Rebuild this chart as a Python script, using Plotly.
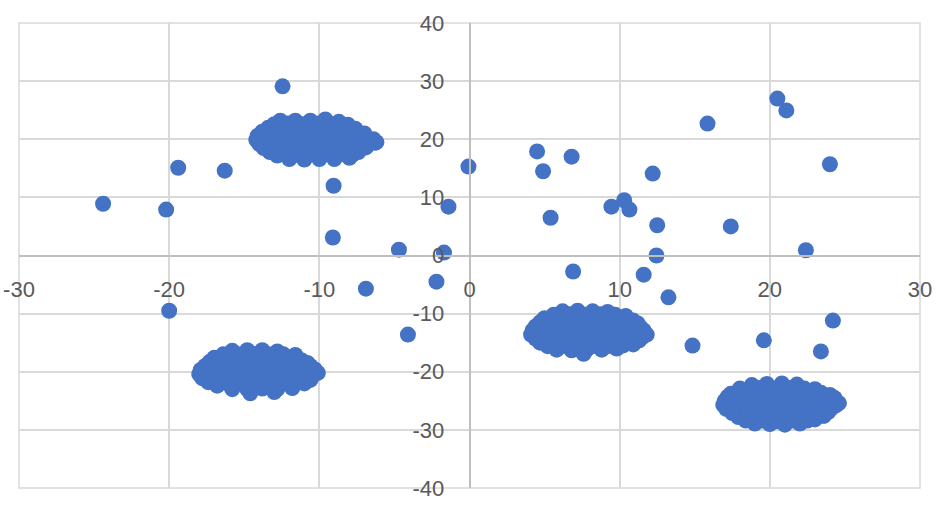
import plotly.graph_objects as go

# Scattered outlier points
outlier_x = [-24.4, -20.2, -19.4, -16.3, -20.0, -12.45, -9.05, -9.1, -6.9, -4.7,
             -4.1, -2.2, -1.7, -1.4, -0.07, 4.5, 4.9, 6.8, 5.4, 6.9,
             9.45, 10.3, 10.65, 12.2, 12.5, 12.45, 11.6, 13.25, 14.85, 15.85,
             17.4, 20.5, 21.1, 22.4, 24.0, 24.2, 19.6, 23.4]
outlier_y = [8.9, 7.9, 15.1, 14.6, -9.5, 29.1, 12.0, 3.1, -5.7, 1.0,
             -13.6, -4.5, 0.5, 8.4, 15.3, 17.9, 14.5, 17.0, 6.5, -2.75,
             8.4, 9.5, 7.9, 14.1, 5.2, 0.0, -3.3, -7.2, -15.5, 22.7,
             5.0, 27.0, 24.96, 0.9, 15.7, -11.2, -14.6, -16.5]

# Cluster A (upper left)
clusterA_x = [-12.6, -11.6, -10.6, -9.6, -8.7,
              -13.4, -12.4, -11.4, -10.4, -9.4, -8.4, -7.6,
              -14.1, -13.2, -12.2, -11.2, -10.2, -9.2, -8.2, -7.2, -6.4,
              -14.0, -13.0, -12.0, -11.0, -10.0, -9.0, -8.0, -7.0, -6.3,
              -13.3, -12.3, -11.3, -10.3, -9.3, -8.3, -7.4,
              -12.0, -11.0, -10.0, -9.0, -8.0,
              -13.0, -12.1, -11.1, -10.1, -9.1, -8.1,
              -13.8, -12.8, -11.8, -10.8, -9.8, -8.8, -7.8, -7.0,
              -14.2, -13.5, -12.5, -11.5, -10.5, -9.5, -8.5, -7.5, -6.6, -6.2,
              -13.7, -12.7, -11.7, -10.7, -9.7, -8.7, -7.7, -6.9,
              -12.8, -11.8, -10.8, -9.8, -8.8, -7.8]
clusterA_y = [23.2, 23.2, 23.2, 23.4, 23.0,
              22.0, 22.0, 22.1, 22.0, 22.2, 22.0, 21.8,
              20.6, 20.7, 20.5, 20.6, 20.6, 20.5, 20.7, 20.4, 20.0,
              19.2, 19.2, 19.1, 19.2, 19.3, 19.2, 19.1, 19.2, 19.4,
              17.8, 17.9, 17.8, 17.7, 17.8, 17.9, 17.8,
              16.6, 16.5, 16.6, 16.6, 16.8,
              22.6, 22.7, 22.6, 22.7, 22.6, 22.5,
              21.3, 21.3, 21.4, 21.3, 21.3, 21.4, 21.2, 21.0,
              19.9, 19.9, 19.9, 20.0, 19.9, 19.9, 20.0, 19.8, 19.7, 19.5,
              18.5, 18.5, 18.4, 18.5, 18.5, 18.4, 18.5, 18.6,
              17.2, 17.1, 17.2, 17.2, 17.2, 17.3]

# Cluster B (lower left)
clusterB_x = [-15.8, -14.8, -13.8, -12.8,
              -17.0, -16.0, -15.0, -14.0, -13.0, -12.0, -11.2,
              -17.6, -16.6, -15.6, -14.6, -13.6, -12.6, -11.6, -10.6,
              -18.0, -17.0, -16.0, -15.0, -14.0, -13.0, -12.0, -11.0, -10.1,
              -17.4, -16.4, -15.4, -14.4, -13.4, -12.4, -11.4, -10.6,
              -15.8, -14.8, -13.8, -12.8, -11.8,
              -14.6, -13.0,
              -16.4, -15.4, -14.4, -13.4, -12.4, -11.6,
              -17.3, -16.3, -15.3, -14.3, -13.3, -12.3, -11.3, -10.8,
              -17.9, -17.1, -16.1, -15.1, -14.1, -13.1, -12.1, -11.1, -10.3,
              -17.8, -16.5, -15.5, -14.5, -13.5, -12.5, -11.5, -10.5,
              -16.8, -15.9, -14.9, -13.9, -12.9, -11.9, -11.0]
clusterB_y = [-16.4, -16.3, -16.3, -16.5,
              -17.6, -17.5, -17.6, -17.6, -17.5, -17.6, -18.0,
              -19.0, -19.0, -19.1, -19.0, -19.0, -19.1, -19.0, -19.0,
              -20.4, -20.4, -20.3, -20.4, -20.4, -20.5, -20.4, -20.3, -20.2,
              -21.8, -21.8, -21.9, -21.8, -21.7, -21.8, -21.8, -21.4,
              -23.0, -23.0, -22.9, -23.0, -22.8,
              -23.7, -23.5,
              -17.0, -17.0, -16.9, -17.0, -17.0, -17.1,
              -18.3, -18.3, -18.3, -18.2, -18.3, -18.3, -18.4, -18.5,
              -19.7, -19.7, -19.7, -19.8, -19.7, -19.7, -19.7, -19.6, -19.6,
              -21.1, -21.1, -21.1, -21.0, -21.1, -21.1, -21.1, -20.9,
              -22.4, -22.4, -22.4, -22.4, -22.4, -22.3, -22.0]

# Cluster C (center right)
clusterC_x = [6.2, 7.2, 8.2, 9.2,
              5.0, 6.0, 7.0, 8.0, 9.0, 10.0, 10.9,
              4.4, 5.4, 6.4, 7.4, 8.4, 9.4, 10.4, 11.4,
              4.1, 5.1, 6.1, 7.1, 8.1, 9.1, 10.1, 11.1, 11.8,
              4.7, 5.7, 6.7, 7.7, 8.7, 9.7, 10.7, 11.3,
              5.8, 6.8, 7.8, 8.8, 9.8,
              7.6,
              5.6, 6.7, 7.7, 8.7, 9.7, 10.4,
              4.7, 5.5, 6.5, 7.5, 8.5, 9.5, 10.5, 11.2,
              4.2, 4.9, 5.9, 6.9, 7.9, 8.9, 9.9, 10.9, 11.6,
              4.4, 5.6, 6.6, 7.6, 8.6, 9.6, 10.6, 11.5,
              5.2, 6.2, 7.2, 8.2, 9.2, 10.2, 10.9]
clusterC_y = [-9.6, -9.5, -9.6, -9.7,
              -10.8, -10.7, -10.8, -10.7, -10.8, -10.8, -11.2,
              -12.2, -12.2, -12.1, -12.2, -12.2, -12.1, -12.2, -12.4,
              -13.6, -13.6, -13.6, -13.5, -13.6, -13.6, -13.6, -13.5, -13.6,
              -15.0, -15.0, -15.1, -15.0, -15.0, -15.0, -14.9, -14.6,
              -16.2, -16.3, -16.2, -16.2, -16.0,
              -16.9,
              -10.2, -10.1, -10.2, -10.1, -10.2, -10.4,
              -11.5, -11.5, -11.4, -11.5, -11.5, -11.4, -11.5, -11.7,
              -12.9, -12.9, -12.9, -12.8, -12.9, -12.9, -12.9, -12.8, -12.9,
              -14.3, -14.3, -14.3, -14.4, -14.3, -14.3, -14.3, -14.1,
              -15.6, -15.6, -15.7, -15.6, -15.6, -15.5, -15.3]

# Cluster D (lower right)
clusterD_x = [18.8, 19.8, 20.8, 21.8,
              17.4, 18.4, 19.4, 20.4, 21.4, 22.4, 23.4, 24.0,
              17.0, 18.0, 19.0, 20.0, 21.0, 22.0, 23.0, 24.0, 24.6,
              17.1, 18.1, 19.1, 20.1, 21.1, 22.1, 23.1, 24.1,
              17.9, 18.9, 19.9, 20.9, 21.9, 22.9, 23.6,
              19.0, 20.0, 21.0, 22.0,
              18.0, 19.3, 20.3, 21.3, 22.3, 23.0,
              17.2, 17.9, 18.9, 19.9, 20.9, 21.9, 22.9, 23.9, 24.3,
              16.9, 17.6, 18.6, 19.6, 20.6, 21.6, 22.6, 23.6, 24.4,
              17.5, 18.6, 19.6, 20.6, 21.6, 22.6, 23.6, 23.9,
              18.4, 19.5, 20.5, 21.5, 22.5, 23.0]
clusterD_y = [-22.3, -22.1, -22.0, -22.2,
              -23.8, -23.6, -23.5, -23.6, -23.6, -23.5, -23.6, -24.0,
              -25.0, -25.0, -25.1, -25.0, -25.0, -25.1, -25.0, -25.0, -25.4,
              -26.4, -26.4, -26.5, -26.4, -26.4, -26.4, -26.5, -26.3,
              -27.8, -27.9, -27.8, -27.8, -27.9, -27.8, -27.6,
              -28.9, -29.0, -29.1, -28.9,
              -22.9, -22.8, -22.9, -22.8, -22.9, -23.0,
              -24.3, -24.3, -24.3, -24.2, -24.3, -24.3, -24.3, -24.2, -24.5,
              -25.7, -25.7, -25.7, -25.8, -25.7, -25.7, -25.7, -25.6, -25.8,
              -27.1, -27.1, -27.2, -27.1, -27.1, -27.1, -27.0, -26.9,
              -28.4, -28.4, -28.5, -28.4, -28.4, -28.2]

x_all = clusterA_x + clusterB_x + clusterC_x + clusterD_x + outlier_x
y_all = clusterA_y + clusterB_y + clusterC_y + clusterD_y + outlier_y

x_ticks = [-30, -20, -10, 0, 10, 20, 30]
y_ticks = [-40, -30, -20, -10, 0, 10, 20, 30, 40]

fig = go.Figure()
fig.add_trace(go.Scatter(
    x=x_all, y=y_all, mode="markers",
    marker=dict(size=16, color="#4472C4", line=dict(width=0)),
    showlegend=False, hoverinfo="x+y",
))

tick_font = dict(family="Liberation Sans, Arial, sans-serif", size=22, color="#595959")

fig.update_layout(
    width=942, height=512,
    margin=dict(l=19, r=22, t=23, b=24, autoexpand=False),
    paper_bgcolor="white", plot_bgcolor="white",
    xaxis=dict(
        range=[-30, 30], tickvals=x_ticks, ticktext=[str(v) for v in x_ticks],
        showgrid=True, gridcolor="#d9d9d9", gridwidth=1.5,
        zeroline=False, showline=True, linecolor="#bfbfbf", linewidth=1.5,
        anchor="free", position=0.5, ticks="", ticklabelstandoff=14,
        tickfont=tick_font, fixedrange=True, automargin=False,
    ),
    yaxis=dict(
        range=[-40, 40], tickvals=y_ticks, ticktext=[str(v) for v in y_ticks],
        showgrid=True, gridcolor="#d9d9d9", gridwidth=1.5,
        zeroline=False, showline=True, linecolor="#bfbfbf", linewidth=1.5,
        anchor="free", position=0.5, ticks="", ticklabelstandoff=20,
        tickfont=tick_font, fixedrange=True, automargin=False,
    ),
    shapes=[dict(type="rect", xref="paper", yref="paper", x0=0, x1=1, y0=0, y1=1,
                 line=dict(color="#d9d9d9", width=1.5), layer="below")],
)

fig.write_html("out.html", config={"displayModeBar": False},
               post_script="document.body.style.margin='0';")
